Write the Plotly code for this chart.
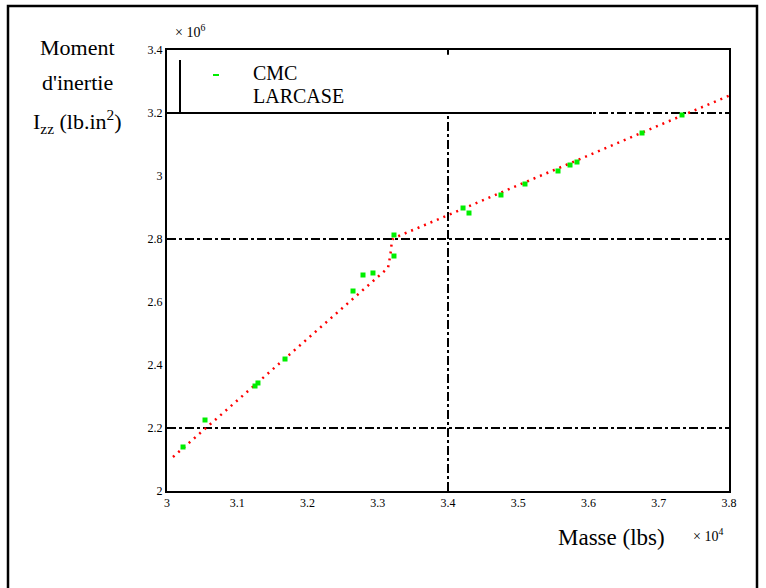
import plotly.graph_objects as go

# CMC measured points (mass x1e4 lbs, inertia x1e6 lb.in^2)
cmc_x = [3.0228, 3.0541, 3.1253, 3.1295, 3.1680, 3.2648, 3.2790, 3.2932, 3.3231, 3.3231,
         3.4214, 3.4299, 3.4754, 3.5096, 3.5566, 3.5737, 3.5836, 3.6762, 3.7331]
cmc_y = [2.1397, 2.2254, 2.3333, 2.3429, 2.4190, 2.6349, 2.6857, 2.6921, 2.7460, 2.8127,
         2.8984, 2.8825, 2.9397, 2.9746, 3.0159, 3.0349, 3.0444, 3.1365, 3.1937]

# LARCASE curve
lar_x = [3.0085, 3.1000, 3.2000, 3.3000, 3.3146, 3.3180, 3.3203, 3.3231, 3.4000, 3.5000, 3.6000, 3.7000, 3.8000]
lar_y = [2.1080, 2.2870, 2.4830, 2.6790, 2.7080, 2.7500, 2.7970, 2.8030, 2.8760, 2.9710, 3.0660, 3.1620, 3.2550]

x_ticks = [3, 3.1, 3.2, 3.3, 3.4, 3.5, 3.6, 3.7, 3.8]
x_tick_labels = ["3", "3.1", "3.2", "3.3", "3.4", "3.5", "3.6", "3.7", "3.8"]
y_ticks = [2, 2.2, 2.4, 2.6, 2.8, 3, 3.2, 3.4]
y_tick_labels = ["2", "2.2", "2.4", "2.6", "2.8", "3", "3.2", "3.4"]
grid_y = [2.2, 2.8, 3.2]
grid_x = [3.4]

SERIF = "Liberation Serif"


def px(xp):
    return (xp - 167) / 562


def py(yp):
    return (491 - yp) / 441


fig = go.Figure()
fig.add_trace(go.Scatter(x=lar_x, y=lar_y, mode="lines", name="LARCASE",
                         line=dict(color="#ff0000", width=2.5, dash="2px,5px")))
fig.add_trace(go.Scatter(x=cmc_x, y=cmc_y, mode="markers", name="CMC",
                         marker=dict(color="#00ee00", symbol="square", size=5, line=dict(width=0))))

shapes = []
for gy in grid_y:
    shapes.append(dict(type="line", xref="x", yref="y", x0=3.0, x1=3.8, y0=gy, y1=gy,
                       line=dict(color="black", width=2, dash="dashdot"), layer="below"))
for gx in grid_x:
    shapes.append(dict(type="line", xref="x", yref="y", x0=gx, x1=gx, y0=2.0, y1=3.4,
                       line=dict(color="black", width=2, dash="dashdot"), layer="below"))
# legend box
shapes.append(dict(type="rect", xref="x", yref="y", x0=3.0, x1=3.605, y0=3.2, y1=3.385,
                   fillcolor="white", line=dict(width=0), layer="below"))
shapes.append(dict(type="line", xref="x", yref="y", x0=3.0, x1=3.605, y0=3.2, y1=3.2,
                   line=dict(color="black", width=2)))
shapes.append(dict(type="line", xref="x", yref="y", x0=3.0185, x1=3.0185, y0=3.2, y1=3.368,
                   line=dict(color="black", width=2)))
# legend green sample
shapes.append(dict(type="line", xref="paper", yref="paper", x0=px(213), x1=px(219), y0=py(75), y1=py(75),
                   line=dict(color="#00ee00", width=2)))
# outer border
shapes.append(dict(type="rect", xref="paper", yref="paper", x0=px(8), x1=px(757), y0=py(600), y1=py(6),
                   line=dict(color="black", width=2.5), fillcolor="rgba(0,0,0,0)"))


def ann(text, xp, yp, size, xanchor="center"):
    return dict(text=text, xref="paper", yref="paper", x=px(xp), y=py(yp), showarrow=False,
                xanchor=xanchor, yanchor="middle", font=dict(family=SERIF, size=size, color="black"))


annotations = [
    ann("CMC", 251, 73, 20, "left"),
    ann("LARCASE", 251, 96, 20, "left"),
    ann("Moment", 77, 47, 22),
    ann("d'inertie", 77, 82, 22),
    ann("I<sub>zz</sub> (lb.in<sup>2</sup>)", 77, 121, 22),
    ann("Masse (lbs)", 611, 537, 23),
    ann("× 10<sup>4</sup>", 708, 535, 14),
    ann("× 10<sup>6</sup>", 190, 31, 14),
]

fig.update_layout(
    width=766, height=588,
    margin=dict(l=167, r=37, t=50, b=97),
    paper_bgcolor="white", plot_bgcolor="white",
    showlegend=False,
    shapes=shapes, annotations=annotations,
    xaxis=dict(range=[3.0, 3.8], tickvals=x_ticks, ticktext=x_tick_labels, showgrid=False,
               zeroline=False, showline=True, linecolor="black", linewidth=2, mirror=True,
               ticks="", tickfont=dict(family=SERIF, size=12, color="black")),
    yaxis=dict(range=[2.0, 3.4], tickvals=y_ticks, ticktext=y_tick_labels, showgrid=False,
               zeroline=False, showline=True, linecolor="black", linewidth=2, mirror=True,
               ticks="", tickfont=dict(family=SERIF, size=12, color="black")),
)

fig.write_html("out.html")
